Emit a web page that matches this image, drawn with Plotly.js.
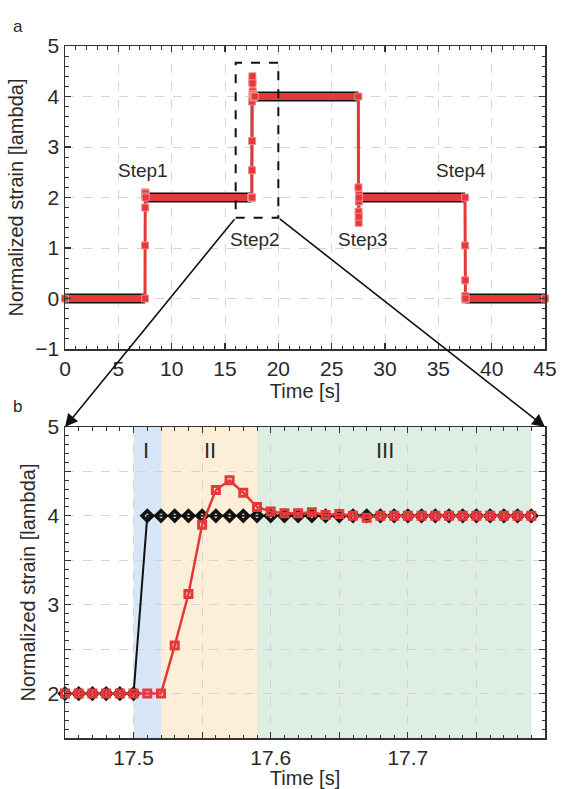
<!DOCTYPE html>
<html>
<head>
<meta charset="utf-8">
<script src="https://cdn.plot.ly/plotly-3.0.1.min.js"></script>
<style>html,body{margin:0;padding:0;background:#fff;}#chart{width:561px;height:789px;}</style>
</head>
<body>
<div id="chart"></div>
<script>
// ---------- data: panel a (full test) ----------
const stepTimes  = [0, 7.5, 17.5, 27.5, 37.5, 45];
const stepLevels = [0, 2, 4, 2, 0];
const stepNames  = ['Step1', 'Step2', 'Step3', 'Step4'];

// red response samples around the transitions (panel a)
const step1RedT = [7.50, 7.51, 7.52, 7.53, 7.54, 7.55, 7.56];
const step1RedY = [0.00, 1.05, 1.80, 2.10, 2.08, 2.02, 2.00];
const step3RedT = [27.50, 27.51, 27.52, 27.53, 27.54, 27.55, 27.56, 27.57];
const step3RedY = [4.00, 2.20, 1.72, 1.50, 1.62, 1.92, 2.05, 2.00];
const step4RedT = [37.50, 37.51, 37.52, 37.53, 37.54, 37.55];
const step4RedY = [2.00, 1.05, 0.36, 0.05, -0.02, 0.00];

// ---------- data: panel b (zoom on Step2) ----------
const zoomTime  = [17.45, 17.46, 17.47, 17.48, 17.49, 17.50, 17.51, 17.52, 17.53, 17.54,
                   17.55, 17.56, 17.57, 17.58, 17.59, 17.60, 17.61, 17.62, 17.63, 17.64,
                   17.65, 17.66, 17.67, 17.68, 17.69, 17.70, 17.71, 17.72, 17.73, 17.74,
                   17.75, 17.76, 17.77, 17.78, 17.79];
const zoomBlack = [2, 2, 2, 2, 2, 2, 4, 4, 4, 4,
                   4, 4, 4, 4, 4, 4, 4, 4, 4, 4,
                   4, 4, 4, 4, 4, 4, 4, 4, 4, 4,
                   4, 4, 4, 4, 4];
const zoomRed   = [2, 2, 2, 2, 2, 2, 2, 2, 2.54, 3.12,
                   3.90, 4.29, 4.40, 4.26, 4.10, 4.05, 4.03, 4.03, 4.04, 4.01,
                   4.02, 4.00, 3.98, 4.00, 4.00, 4.00, 4.00, 4.00, 4.00, 4.00,
                   4.00, 4.00, 4.00, 4.00, 4.00];
const regionNames = ['I', 'II', 'III'];
const regionStart = [17.50, 17.52, 17.59];
const regionEnd   = [17.52, 17.59, 17.79];

// ---------- tick labels ----------
const topXTicks = [0, 5, 10, 15, 20, 25, 30, 35, 40, 45];
const topYTicks = [-1, 0, 1, 2, 3, 4, 5];
const botXTickVals = [17.45, 17.5, 17.55, 17.6, 17.65, 17.7, 17.75, 17.8];
const botXTickText = ['', '17.5', '', '17.6', '', '17.7', '', '17.8'];
const botYTickVals = [1.5, 2, 2.5, 3, 3.5, 4, 4.5, 5];
const botYTickText = ['', '2', '', '3', '', '4', '', '5'];

// ---------- styles ----------
const RED = '#e5383b';
const BLACK = '#111111';
const regionColors = ['rgba(200,222,243,0.75)', 'rgba(253,234,205,0.8)', 'rgba(214,234,219,0.8)'];
const FONT = 'Liberation Sans, Arial, Helvetica, sans-serif';
const TXT = '#2a2a2a';

// build step paths from the step arrays
const stepX = [], stepY = [], bandX = [], bandY = [];
for (let i = 0; i < stepLevels.length; i++) {
  stepX.push(stepTimes[i], stepTimes[i + 1]);
  stepY.push(stepLevels[i], stepLevels[i]);
  bandX.push(stepTimes[i], stepTimes[i + 1], null);
  bandY.push(stepLevels[i], stepLevels[i], null);
}
const redX = [stepTimes[0]].concat(step1RedT, zoomTime, step3RedT, step4RedT, [stepTimes[stepTimes.length - 1]]);
const redY = [stepLevels[0]].concat(step1RedY, zoomRed, step3RedY, step4RedY, [stepLevels[stepLevels.length - 1]]);

const traces = [
  {x: bandX, y: bandY, xaxis: 'x', yaxis: 'y', mode: 'lines', line: {color: BLACK, width: 10}, hoverinfo: 'skip', showlegend: false, cliponaxis: false},
  {x: stepX, y: stepY, xaxis: 'x', yaxis: 'y', mode: 'lines', line: {color: BLACK, width: 2}, showlegend: false, cliponaxis: false},
  {x: bandX, y: bandY, xaxis: 'x', yaxis: 'y', mode: 'lines', line: {color: RED, width: 7}, hoverinfo: 'skip', showlegend: false, cliponaxis: false},
  {x: redX, y: redY, xaxis: 'x', yaxis: 'y', mode: 'lines+markers', line: {color: RED, width: 3},
   marker: {symbol: 'square', size: 7, color: RED, line: {color: '#f08a8c', width: 1}}, showlegend: false, cliponaxis: false},
  {x: zoomTime, y: zoomBlack, xaxis: 'x2', yaxis: 'y2', mode: 'lines+markers', line: {color: BLACK, width: 2},
   marker: {symbol: 'diamond-open', size: 8, color: BLACK, line: {color: BLACK, width: 3.5}}, showlegend: false, cliponaxis: false},
  {x: zoomTime, y: zoomRed, xaxis: 'x2', yaxis: 'y2', mode: 'lines+markers', line: {color: RED, width: 2.5},
   marker: {symbol: 'square-open', size: 7, color: RED, line: {color: RED, width: 3}}, showlegend: false, cliponaxis: false}
];

const W = 561, H = 789;
const xDom = [65 / W, 545 / W];
const topDom = [1 - 349 / H, 1 - 46 / H];
const botDom = [1 - 738 / H, 1 - 427 / H];

const axisCommon = {
  showline: true, mirror: 'ticks', linecolor: '#333', linewidth: 1.5,
  ticks: 'inside', ticklen: 6, tickwidth: 1.2, tickcolor: '#333',
  showgrid: true, gridcolor: '#d4d4d4', gridwidth: 1, griddash: 'dash',
  zeroline: false, tickfont: {family: FONT, size: 21, color: TXT}, fixedrange: true
};

const shapes = [
  {type: 'rect', xref: 'x', yref: 'y', x0: 16, x1: 20, y0: 1.6, y1: 4.67,
   line: {color: BLACK, width: 2, dash: 'dash'}, fillcolor: 'rgba(0,0,0,0)', layer: 'above'}
];
for (let i = 0; i < regionNames.length; i++) {
  shapes.push({type: 'rect', xref: 'x2', yref: 'y2 domain', x0: regionStart[i], x1: regionEnd[i], y0: 0, y1: 1,
    fillcolor: regionColors[i], line: {width: 0}, layer: 'below'});
}

const annotations = [];
const stepLabelPos = [[7.3, 2.53], [17.85, 1.16], [27.9, 1.16], [37.1, 2.53]];
for (let i = 0; i < stepNames.length; i++) {
  annotations.push({xref: 'x', yref: 'y', x: stepLabelPos[i][0], y: stepLabelPos[i][1], text: stepNames[i],
    showarrow: false, font: {family: FONT, size: 19, color: TXT}});
}
const regionLabelX = [17.509, 17.556, 17.683];
for (let i = 0; i < regionNames.length; i++) {
  annotations.push({xref: 'x2', yref: 'y2', x: regionLabelX[i], y: 4.73, text: regionNames[i],
    showarrow: false, font: {family: FONT, size: 22, color: TXT}});
}
annotations.push(
  {xref: 'paper', yref: 'paper', x: 11 / W, y: 1 - 15 / H, text: 'a', showarrow: false, xanchor: 'left',
   font: {family: FONT, size: 17, color: TXT}},
  {xref: 'paper', yref: 'paper', x: 11 / W, y: 1 - 406 / H, text: 'b', showarrow: false, xanchor: 'left',
   font: {family: FONT, size: 17, color: TXT}},
  {xref: 'x2', yref: 'y2', x: 17.45, y: 5, text: '', showarrow: true, arrowhead: 2, arrowsize: 1.6,
   arrowwidth: 1.6, arrowcolor: BLACK, ax: 170.7, ay: -209.3, standoff: 0},
  {xref: 'x2', yref: 'y2', x: 17.8, y: 5, text: '', showarrow: true, arrowhead: 2, arrowsize: 1.6,
   arrowwidth: 1.6, arrowcolor: BLACK, ax: -266.7, ay: -209.3, standoff: 0}
);

const minorCommon = {ticks: 'inside', ticklen: 3.5, tickwidth: 1, tickcolor: '#333', tickmode: 'linear', showgrid: false};
const titleFont = {family: FONT, size: 20, color: TXT};

const layout = {
  width: W, height: H,
  margin: {l: 0, r: 0, t: 0, b: 0},
  paper_bgcolor: '#fff', plot_bgcolor: '#fff',
  font: {family: FONT, color: TXT},
  showlegend: false,
  xaxis: Object.assign({}, axisCommon, {
    domain: xDom, anchor: 'y', range: [0, 45], tickmode: 'array', tickvals: topXTicks,
    minor: Object.assign({}, minorCommon, {tick0: 0, dtick: 1}),
    title: {text: 'Time [s]', font: titleFont, standoff: 2}
  }),
  yaxis: Object.assign({}, axisCommon, {
    domain: topDom, anchor: 'x', range: [-1, 5], tickmode: 'array', tickvals: topYTicks,
    minor: Object.assign({}, minorCommon, {tick0: 0, dtick: 0.2}),
    title: {text: 'Normalized strain [lambda]', font: titleFont, standoff: 6}
  }),
  xaxis2: Object.assign({}, axisCommon, {
    domain: xDom, anchor: 'y2', range: [17.45, 17.8], tickmode: 'array', tickvals: botXTickVals, ticktext: botXTickText,
    minor: Object.assign({}, minorCommon, {tick0: 17.45, dtick: 0.01}),
    title: {text: 'Time [s]', font: titleFont, standoff: 2}
  }),
  yaxis2: Object.assign({}, axisCommon, {
    domain: botDom, anchor: 'x2', range: [1.5, 5], tickmode: 'array', tickvals: botYTickVals, ticktext: botYTickText,
    minor: Object.assign({}, minorCommon, {tick0: 1.5, dtick: 0.1}),
    title: {text: 'Normalized strain [lambda]', font: titleFont, standoff: 6}
  }),
  shapes: shapes,
  annotations: annotations
};

Plotly.newPlot('chart', traces, layout, {staticPlot: true, displayModeBar: false});
</script>
</body>
</html>
